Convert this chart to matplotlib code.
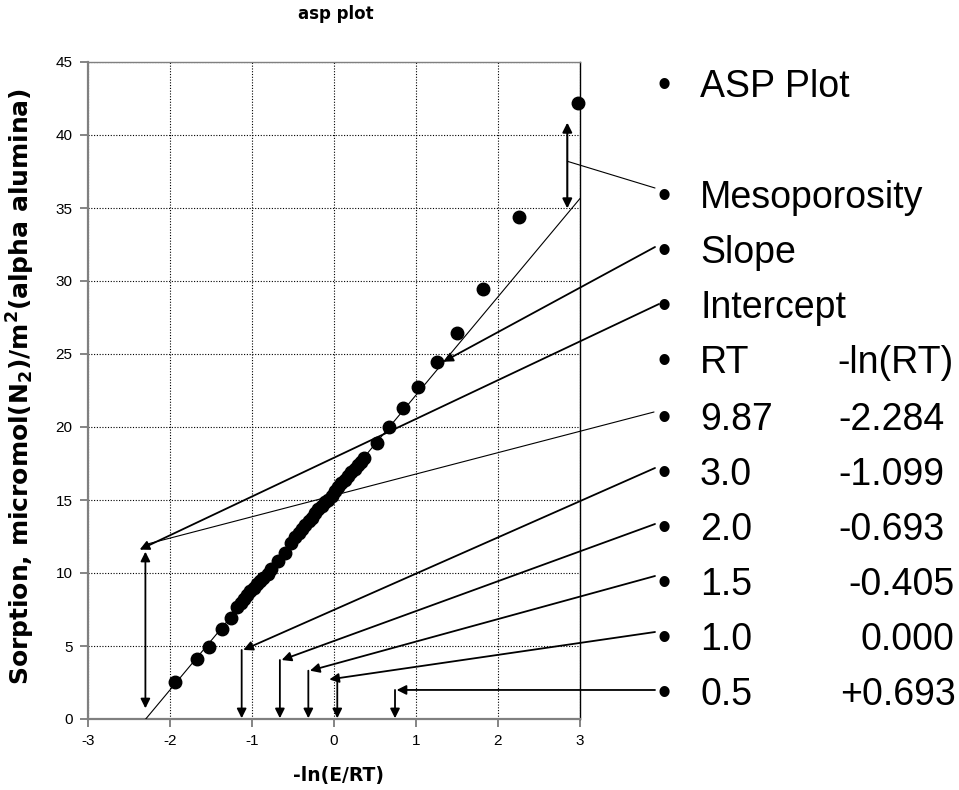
import matplotlib
matplotlib.use("Agg")
import matplotlib.pyplot as plt

# ---------------- data ----------------
pts_x = [-1.94, -1.67, -1.53, -1.37, -1.256,
         -1.18, -1.14, -1.10, -1.06, -1.02, -0.98, -0.94, -0.90, -0.86, -0.81,
         -0.77, -0.68, -0.60, -0.52, -0.47, -0.43, -0.39, -0.35, -0.31, -0.27,
         -0.23, -0.19, -0.15, -0.11, -0.07, -0.03, 0.01, 0.05, 0.09, 0.13,
         0.17, 0.21, 0.25, 0.29, 0.33, 0.37,
         0.52, 0.67, 0.845, 1.03, 1.25, 1.50, 1.82, 2.25, 2.98]
pts_y = [2.53, 4.1, 4.9, 6.16, 6.9,
         7.65, 7.95, 8.2, 8.5, 8.75, 9.0, 9.25, 9.45, 9.65, 9.9,
         10.25, 10.8, 11.4, 12.05, 12.45, 12.75, 13.0, 13.3, 13.55, 13.8,
         14.1, 14.35, 14.6, 14.85, 15.0, 15.3, 15.6, 15.9, 16.15, 16.4,
         16.65, 16.9, 17.15, 17.4, 17.6, 17.85,
         18.88, 20.0, 21.27, 22.76, 24.43, 26.46, 29.47, 34.36, 42.2]

fit_x = [-2.296, 3.0]
fit_y = [0.0, 35.65]

x_ticks = [-3, -2, -1, 0, 1, 2, 3]
y_ticks = [0, 5, 10, 15, 20, 25, 30, 35, 40, 45]

list_labels = ["ASP Plot", "Mesoporosity", "Slope", "Intercept", "RT",
               "9.87", "3.0", "2.0", "1.5", "1.0", "0.5"]
list_values = ["", "", "", "", "-ln(RT)",
               "-2.284", "-1.099", "-0.693", "-0.405", "0.000", "+0.693"]

# vertical arrows at -ln(RT) positions (x, top of arrow)
rt_vert_x = [-1.126, -0.66, -0.313, 0.04, 0.744]
rt_vert_top = [4.73, 4.04, 3.31, 2.71, 1.99]
# tips of the pointer arrows
rt_tip_x = [-1.106, -0.638, -0.293, -0.057, 0.764]
rt_tip_y = [4.73, 4.04, 3.31, 2.71, 1.99]

# ---------------- layout ----------------
W, H = 959, 790
fig = plt.figure(figsize=(W / 100, H / 100), dpi=100)
ax = fig.add_axes([88 / W, (H - 719) / H, 492 / W, 657 / H])

def fp(x, y):
    return (x / W, 1 - y / H)

ax.set_xlim(-3, 3)
ax.set_ylim(0, 45)
ax.set_xticks(x_ticks)
ax.set_yticks(y_ticks)
ax.set_xticklabels([str(t) for t in x_ticks])
ax.set_yticklabels([str(t) for t in y_ticks])
ax.grid(True, color="black", linestyle=(0, (1, 1.5)), linewidth=0.8)
ax.set_axisbelow(True)
ax.tick_params(axis="both", direction="out", length=6, width=1.2, color="#707070", pad=5,
               labelsize=11, labelfontfamily="Liberation Sans")

ax.spines["left"].set_color("#808080")
ax.spines["left"].set_linewidth(1.6)
ax.spines["bottom"].set_color("#808080")
ax.spines["bottom"].set_linewidth(1.6)
ax.spines["top"].set_color("#808080")
ax.spines["top"].set_linewidth(1.0)
ax.spines["right"].set_color("black")
ax.spines["right"].set_linewidth(1.0)

# fitted line
ax.plot(fit_x, fit_y, color="black", lw=0.8, zorder=3)
# data points
ax.plot(pts_x, pts_y, "o", color="black", markersize=9, zorder=4, clip_on=False)

thick = dict(arrowstyle="-|>", color="black", lw=1.3, shrinkA=0, shrinkB=0, mutation_scale=14)
thin = dict(arrowstyle="-", color="black", lw=0.8, shrinkA=0, shrinkB=0)

# Mesoporosity double arrow and pointer
ax.annotate("", xy=(2.845, 34.97), xytext=(2.845, 40.85),
            arrowprops=dict(arrowstyle="<|-|>", color="black", lw=1.5, shrinkA=0, shrinkB=0, mutation_scale=14),
            annotation_clip=False, zorder=5)
ax.annotate("", xy=(2.845, 38.2), xytext=fp(655, 188), textcoords="figure fraction",
            arrowprops=thin, annotation_clip=False)
# Slope
ax.annotate("", xy=(1.333, 24.47), xytext=fp(655, 247), textcoords="figure fraction",
            arrowprops=thick, annotation_clip=False)
# Intercept
ax.annotate("", xy=(-2.37, 11.6), xytext=fp(659, 304), textcoords="figure fraction",
            arrowprops=thick, annotation_clip=False)
# 9.87 thin line
ax.annotate("", xy=(-2.30, 11.95), xytext=fp(654, 412), textcoords="figure fraction",
            arrowprops=thin, annotation_clip=False)
# vertical double arrow at -2.3
ax.annotate("", xy=(-2.30, 0.73), xytext=(-2.30, 11.46),
            arrowprops=dict(arrowstyle="<|-|>", color="black", lw=1.3, shrinkA=0, shrinkB=0, mutation_scale=14),
            annotation_clip=False)

rt_start_y = [468, 524, 576, 632, 690]
for vx, vt, tx, ty, sy in zip(rt_vert_x, rt_vert_top, rt_tip_x, rt_tip_y, rt_start_y):
    ax.annotate("", xy=(vx, 0.05), xytext=(vx, vt), arrowprops=thick, annotation_clip=False)
    ax.annotate("", xy=(tx, ty), xytext=fp(655, sy), textcoords="figure fraction",
                arrowprops=thick, annotation_clip=False)

# titles / labels
fig.text(336 / W, 1 - 14 / H, "asp plot", ha="center", va="center",
         fontsize=12, fontweight="bold", family="DejaVu Sans")
fig.text(339 / W, 1 - 775 / H, "-ln(E/RT)", ha="center", va="center",
         fontsize=13.5, fontweight="bold", family="DejaVu Sans")
fig.text(21 / W, 1 - 387 / H, r"Sorption, micromol(N$_\mathbf{2}$)/m$^\mathbf{2}$(alpha alumina)",
         ha="center", va="center", rotation=90,
         fontsize=18, fontweight="bold", family="DejaVu Sans")

# right-hand bullet list
baselines = [97, 208, 263, 318, 373, 430, 485, 540, 595, 650, 705]
value_x = [0, 0, 0, 0, 837, 838, 838, 838, 848, 860, 840]
for lab, val, by, vx in zip(list_labels, list_values, baselines, value_x):
    fig.text(664 / W, 1 - by / H, "\u2022", ha="center", va="baseline",
             fontsize=27, family="Liberation Sans")
    fig.text(700 / W, 1 - by / H, lab, ha="left", va="baseline",
             fontsize=27, family="Liberation Sans")
    if val:
        fig.text(vx / W, 1 - by / H, val, ha="left", va="baseline",
                 fontsize=27, family="Liberation Sans")

fig.savefig("out.png", dpi=100)
